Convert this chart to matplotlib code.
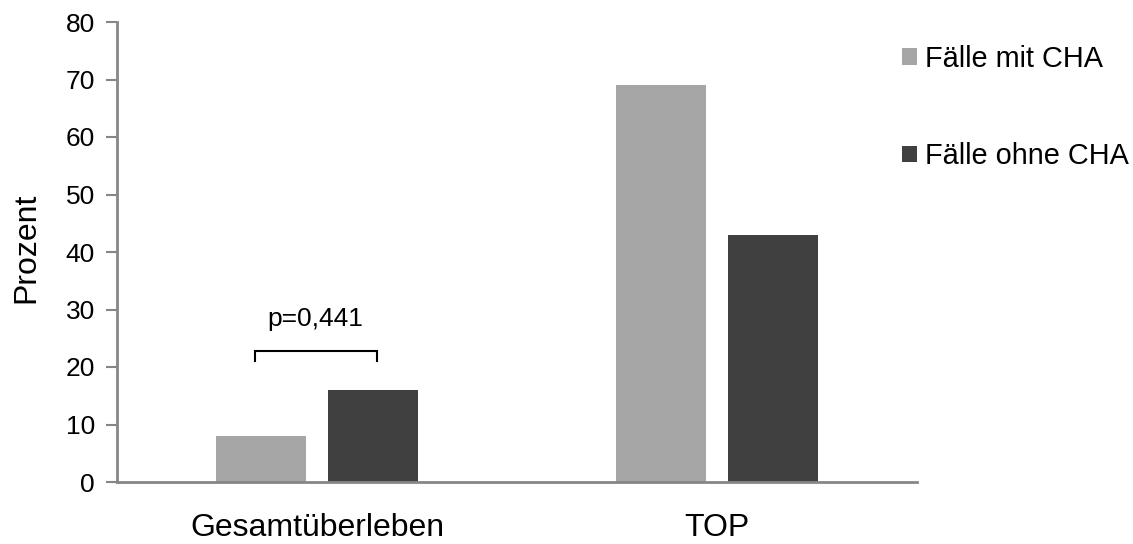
import numpy as np
import matplotlib.pyplot as plt

plt.rcParams['font.family'] = ['Liberation Sans', 'DejaVu Sans']

categories = ["Gesamtüberleben", "TOP"]
mit_cha = [8, 69]
ohne_cha = [16, 43]
series_labels = ["Fälle mit CHA", "Fälle ohne CHA"]
p_text = "p=0,441"

axis_col = "#868686"
light = "#A6A6A6"
dark = "#404040"

fig = plt.figure(figsize=(11.33, 5.44), dpi=100)
ax = fig.add_axes([117/1133, 1 - 482/544, 800/1133, 460/544])

x = np.arange(len(categories))
w = 0.225
off = w / 2 + 0.0275
b1 = ax.bar(x - off, mit_cha, w, color=light, label=series_labels[0])
b2 = ax.bar(x + off, ohne_cha, w, color=dark, label=series_labels[1])

ax.set_xlim(-0.5, len(categories) - 0.5)
ax.set_ylim(0, 80)
ax.set_yticks(range(0, 81, 10))
ax.set_xticks(x)
ax.set_xticklabels(categories, fontsize=23)
ax.tick_params(axis='x', length=0, pad=22)
ax.tick_params(axis='y', length=8, width=1.5, color=axis_col, labelsize=19, pad=8)
for s in ['top', 'right']:
    ax.spines[s].set_visible(False)
for s in ['left', 'bottom']:
    ax.spines[s].set_color(axis_col)
    ax.spines[s].set_linewidth(2)
ax.set_ylabel("Prozent", fontsize=23)
ax.yaxis.set_label_coords(-0.094, 0.51)

# significance bracket over the first group
bx0, bx1 = x[0] - 0.155, x[0] + 0.15
ax.plot([bx0, bx0, bx1, bx1], [21.0, 22.8, 22.8, 21.0], color='black', lw=1.5,
        solid_joinstyle='miter')
ax.text(x[0] - 0.005, 28.3, p_text, ha='center', va='center', fontsize=19)

fig.legend(handles=[b1, b2], loc='upper left', bbox_to_anchor=(902/1133, 1 - 45/544),
           frameon=False, fontsize=20.75, borderpad=0, borderaxespad=0,
           labelspacing=2.4, handlelength=0.52, handleheight=0.52,
           handletextpad=0.28)

fig.savefig("out.png", dpi=100)
